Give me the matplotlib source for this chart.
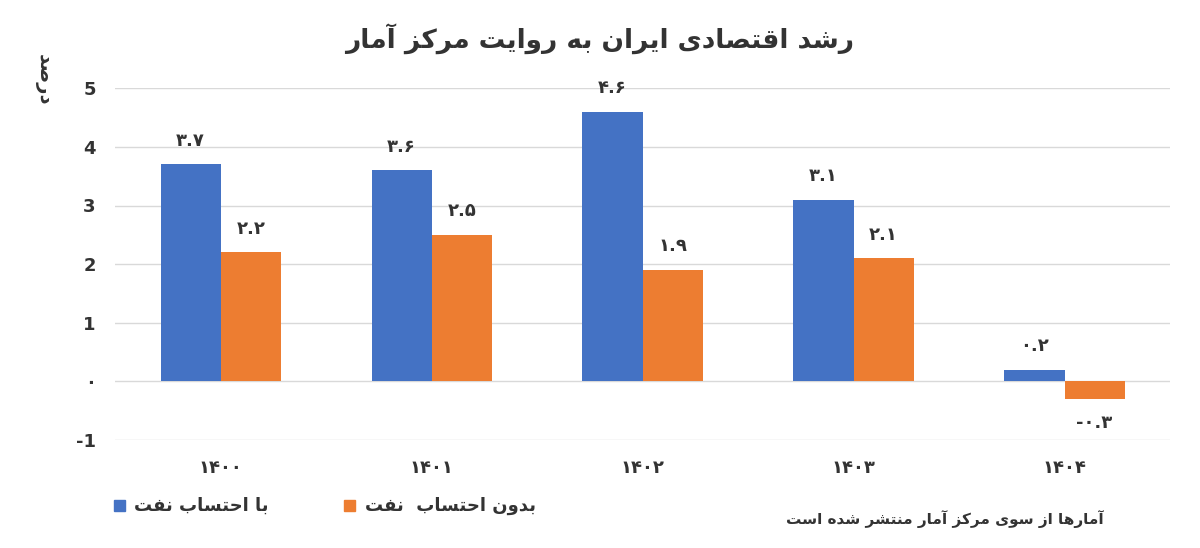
import matplotlib
matplotlib.use("Agg")
import matplotlib.pyplot as plt
import numpy as np

years = ["۱۴۰۰", "۱۴۰۱", "۱۴۰۲", "۱۴۰۳", "۱۴۰۴"]
with_oil = [3.7, 3.6, 4.6, 3.1, 0.2]
without_oil = [2.2, 2.5, 1.9, 2.1, -0.3]
with_labels = ["۳.۷", "۳.۶", "۴.۶", "۳.۱", "۰.۲"]
without_labels = ["۲.۲", "۲.۵", "۱.۹", "۲.۱", "-۰.۳"]
yticks = [-1, 0, 1, 2, 3, 4, 5]
ytick_labels = ["-1", "۰", "1", "2", "3", "4", "5"]

FORMS = {
    'ا': (0xFE8D, 0xFE8E, None, None), 'آ': (0xFE81, 0xFE82, None, None),
    'ب': (0xFE8F, 0xFE90, 0xFE91, 0xFE92), 'ت': (0xFE95, 0xFE96, 0xFE97, 0xFE98),
    'ح': (0xFEA1, 0xFEA2, 0xFEA3, 0xFEA4), 'د': (0xFEA9, 0xFEAA, None, None),
    'ر': (0xFEAD, 0xFEAE, None, None), 'ز': (0xFEAF, 0xFEB0, None, None),
    'س': (0xFEB1, 0xFEB2, 0xFEB3, 0xFEB4), 'ش': (0xFEB5, 0xFEB6, 0xFEB7, 0xFEB8),
    'ص': (0xFEB9, 0xFEBA, 0xFEBB, 0xFEBC), 'ف': (0xFED1, 0xFED2, 0xFED3, 0xFED4),
    'ق': (0xFED5, 0xFED6, 0xFED7, 0xFED8), 'ک': (0xFB8E, 0xFB8F, 0xFB90, 0xFB91),
    'م': (0xFEE1, 0xFEE2, 0xFEE3, 0xFEE4), 'ن': (0xFEE5, 0xFEE6, 0xFEE7, 0xFEE8),
    'ه': (0xFEE9, 0xFEEA, 0xFEEB, 0xFEEC), 'و': (0xFEED, 0xFEEE, None, None),
    'ی': (0xFBFC, 0xFBFD, 0xFBFE, 0xFBFF), 'ي': (0xFEF1, 0xFEF2, 0xFEF3, 0xFEF4),
}

def shape(text):
    out = []
    n = len(text)
    for i, ch in enumerate(text):
        if ch not in FORMS:
            out.append(ch); continue
        f = FORMS[ch]
        prev = text[i-1] if i > 0 else ''
        nxt = text[i+1] if i < n-1 else ''
        jp = prev in FORMS and FORMS[prev][2] is not None
        jn = nxt in FORMS and f[2] is not None
        if jp and jn: c = f[3]
        elif jp: c = f[1]
        elif jn: c = f[2]
        else: c = f[0]
        out.append(chr(c))
    return ''.join(out)[::-1]

plt.rcParams['font.family'] = ['DejaVu Sans']
fig = plt.figure(figsize=(12, 5.48), dpi=100)
ax = fig.add_axes([0.096, 0.197, 0.879, 0.642])
x = np.arange(len(years))
w = 0.285
blue, orange = '#4472C4', '#ED7D31'
ax.bar(x - w/2, with_oil, w, color=blue, zorder=3)
ax.bar(x + w/2, without_oil, w, color=orange, zorder=3)
for i in range(len(years)):
    ax.text(x[i] - w/2, with_oil[i] + 0.25, with_labels[i], ha='center', va='bottom',
            fontsize=13, fontweight='bold', color='#333333')
    yv = without_oil[i]
    ax.text(x[i] + w/2, yv + 0.25 if yv >= 0 else yv - 0.25, without_labels[i], ha='center',
            va='bottom' if yv >= 0 else 'top', fontsize=13, fontweight='bold', color='#333333')
ax.set_xlim(-0.5, 4.5)
ax.set_ylim(-1, 5)
ax.set_yticks(yticks)
ax.set_yticklabels(ytick_labels, fontsize=13, fontweight='bold', color='#333333')
ax.set_xticks(x)
ax.set_xticklabels(years, fontsize=13, fontweight='bold', color='#333333')
ax.tick_params(length=0, pad=14)
ax.grid(axis='y', color='#D9D9D9', lw=1, zorder=0)
for s in ax.spines.values():
    s.set_visible(False)

fig.text(0.5, 0.93, shape("رشد اقتصادی ایران به روایت مرکز آمار"), ha='center', va='center',
         fontsize=19, fontweight='bold', color='#333333')
fig.text(0.036, 0.855, shape("درصد"), rotation=-90, ha='center', va='center',
         fontsize=14, fontweight='bold', color='#333333')
# legend
fig.patches.append(plt.Rectangle((0.095, 0.068), 0.009, 0.02, color=blue, transform=fig.transFigure, figure=fig))
fig.text(0.112, 0.077, shape("با احتساب نفت"), ha='left', va='center', fontsize=13, fontweight='bold', color='#333333')
fig.patches.append(plt.Rectangle((0.287, 0.068), 0.009, 0.02, color=orange, transform=fig.transFigure, figure=fig))
fig.text(0.304, 0.077, shape("بدون احتساب  نفت"), ha='left', va='center', fontsize=13, fontweight='bold', color='#333333')
fig.text(0.92, 0.052, shape("آمارها از سوی مرکز آمار منتشر شده است"), ha='right', va='center',
         fontsize=11, fontweight='bold', color='#333333')
fig.savefig("out.png", dpi=100)
